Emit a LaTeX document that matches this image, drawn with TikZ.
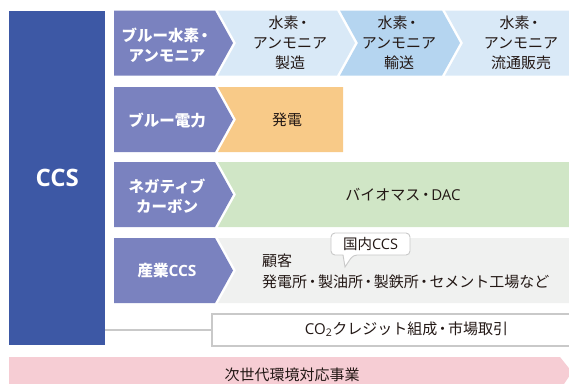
\documentclass[tikz,border=0pt]{standalone}
\usepackage{fontspec}
\setmainfont{Noto Sans CJK JP}
\newfontfamily\latf{Open Sans}
\newcommand{\dt}{\hspace{-0.14em}・\hspace{-0.14em}}
\definecolor{ccsblue}{HTML}{3D58A5}
\definecolor{chevpurple}{HTML}{7A82BF}
\definecolor{lblue}{HTML}{D9E9F7}
\definecolor{mblue}{HTML}{B5D5F0}
\definecolor{orng}{HTML}{F8CA88}
\definecolor{grn}{HTML}{D0E6C6}
\definecolor{lgray}{HTML}{F0F1F0}
\definecolor{pnk}{HTML}{F6CDD4}
\definecolor{bgray}{HTML}{C9C9C9}
\definecolor{txt}{HTML}{231815}
\tikzset{
  lab/.style={text=white,font=\bfseries\fontsize{15.5}{20}\selectfont,align=center,inner sep=0pt},
  body/.style={text=txt,font=\fontsize{15}{20}\selectfont,align=center,inner sep=0pt},
  bodyl/.style={text=txt,font=\fontsize{15}{21}\selectfont,align=left,inner sep=0pt,anchor=west},
}
\begin{document}
\begin{tikzpicture}[x=1pt,y=-1pt]
\useasboundingbox (0,0) rectangle (569,383);
\clip (0,0) rectangle (569,383);
% CCS box
\node[fill=ccsblue,minimum width=96pt,minimum height=334pt,inner sep=0pt,anchor=north west,
      text=white,font=\latf\bfseries\fontsize{24}{28}\selectfont] (ccs) at (9,11) {CCS};
% Row 1
\fill[chevpurple] (114,10.5) -- (215,10.5) -- (233,43) -- (215,75.5) -- (114,75.5) -- cycle;
\fill[lblue] (218,10.5) -- (337,10.5) -- (355,43) -- (337,75.5) -- (218,75.5) -- (236,43) -- cycle;
\fill[mblue] (340,10.5) -- (442,10.5) -- (460,43) -- (442,75.5) -- (340,75.5) -- (358,43) -- cycle;
\fill[lblue] (445,10.5) -- (575,10.5) -- (575,75.5) -- (445,75.5) -- (463,43) -- cycle;
\node[lab] (r1l) at (167,45) {ブルー水素\dt\\アンモニア};
\node[body] (r1a) at (290,43) {水素\dt\\アンモニア\\製造};
\node[body] (r1b) at (399,43) {水素\dt\\アンモニア\\輸送};
\node[body] (r1c) at (521,43) {水素\dt\\アンモニア\\流通販売};
% Row 2
\fill[chevpurple] (114,87) -- (215,87) -- (233,119.5) -- (215,152) -- (114,152) -- cycle;
\fill[orng] (218,87) -- (343,87) -- (343,152) -- (218,152) -- (236,119.5) -- cycle;
\node[lab] (r2l) at (167,120) {ブルー電力};
\node[body] (r2a) at (287,120) {発電};
% Row 3
\fill[chevpurple] (114,162) -- (215,162) -- (233,194.5) -- (215,227) -- (114,227) -- cycle;
\fill[grn] (218,162) -- (575,162) -- (575,227) -- (218,227) -- (236,194.5) -- cycle;
\node[lab] (r3l) at (167,196) {ネガティブ\\カーボン};
\node[body] (r3a) at (403,195) {バイオマス\dt{\latf DAC}};
% Row 4
\fill[chevpurple] (114,238) -- (215,238) -- (233,270.5) -- (215,303) -- (114,303) -- cycle;
\fill[lgray] (218,238) -- (575,238) -- (575,303) -- (218,303) -- (236,270.5) -- cycle;
\node[lab] (r4l) at (167,270.5) {産業{\latf CCS}};
\node[bodyl] (r4a) at (262,260.5) {顧客};
\node[bodyl] (r4b) at (262,281.5) {発電所\dt 製油所\dt 製鉄所\dt セメント工場など};
% callout
\draw[bgray,fill=white,line width=0.9pt,rounded corners=4pt]
  (331,233) -- (410,233) -- (410,255) -- (353,255) [sharp corners] -- (345,267) -- (343,255) [rounded corners=4pt] -- (331,255) -- cycle;
\node[text=txt,font=\fontsize{14.5}{16}\selectfont,inner sep=0pt] (call) at (370.5,244) {国内{\latf CCS}};
% CO2 box
\node[draw=bgray,line width=1.5pt,fill=white,minimum width=364pt,minimum height=32pt,inner sep=0pt,anchor=north west] (co2) at (211,313) {};
\node[body] (co2t) at (406.5,329) {{\latf CO\textsubscript{2}}クレジット組成\dt 市場取引};
\draw[bgray,line width=1.5pt] (co2.west) -- (co2.west -| ccs.east);
% pink bar
\fill[pnk] (9,357) -- (560,357) -- (572,372) -- (560,390) -- (9,390) -- cycle;
\node[body] (nx) at (292,375) {次世代環境対応事業};
\end{tikzpicture}
\end{document}
